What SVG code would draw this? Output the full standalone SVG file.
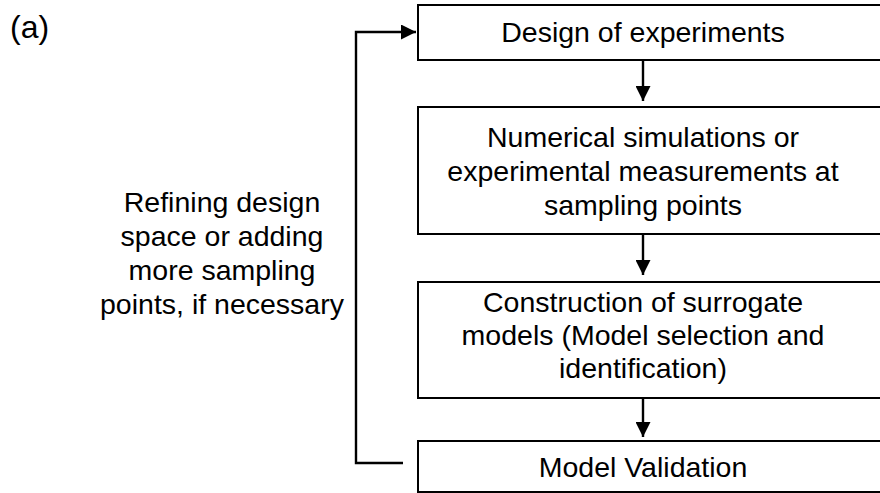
<svg xmlns="http://www.w3.org/2000/svg" width="880" height="493" viewBox="0 0 880 493">
<defs>
<style>
text{font-family:"Liberation Sans",Arial,sans-serif;font-size:28.5px;fill:#000;text-anchor:middle}
.box{fill:#fff;stroke:#000;stroke-width:2}
.conn{fill:none;stroke:#000;stroke-width:2.4}
</style>
<marker id="ah" markerWidth="15" markerHeight="15" refX="15" refY="7.5" orient="auto" markerUnits="userSpaceOnUse">
<path d="M0,0 L15,7.5 L0,15 Z" fill="#000"/>
</marker>
</defs>
<rect width="880" height="493" fill="#fff"/>
<text x="10" y="38" style="text-anchor:start;font-size:32px">(a)</text>
<g id="n1"><rect class="box" x="418" y="5" width="480" height="55"/><text x="643" y="42">Design of experiments</text></g>
<g id="n2"><rect class="box" x="418" y="107" width="480" height="127"/><text x="643" y="147">Numerical simulations or</text><text x="643" y="181">experimental measurements at</text><text x="643" y="215">sampling points</text></g>
<g id="n3"><rect class="box" x="418" y="282" width="480" height="116"/><text x="643" y="312">Construction of surrogate</text><text x="643" y="345">models (Model selection and</text><text x="643" y="378">identification)</text></g>
<g id="n4"><rect class="box" x="418" y="441" width="480" height="51"/><text x="643" y="477">Model Validation</text></g>
<g id="label"><text x="222" y="212">Refining design</text><text x="222" y="246">space or adding</text><text x="222" y="280">more sampling</text><text x="222" y="314">points, if necessary</text></g>
<g id="connectors">
<line class="conn" x1="643" y1="60" x2="643" y2="101" marker-end="url(#ah)"/>
<line class="conn" x1="643" y1="234" x2="643" y2="275" marker-end="url(#ah)"/>
<line class="conn" x1="643" y1="398" x2="643" y2="437" marker-end="url(#ah)"/>
<polyline class="conn" points="403,463 356,463 356,32 416,32" marker-end="url(#ah)"/>
</g>
</svg>
